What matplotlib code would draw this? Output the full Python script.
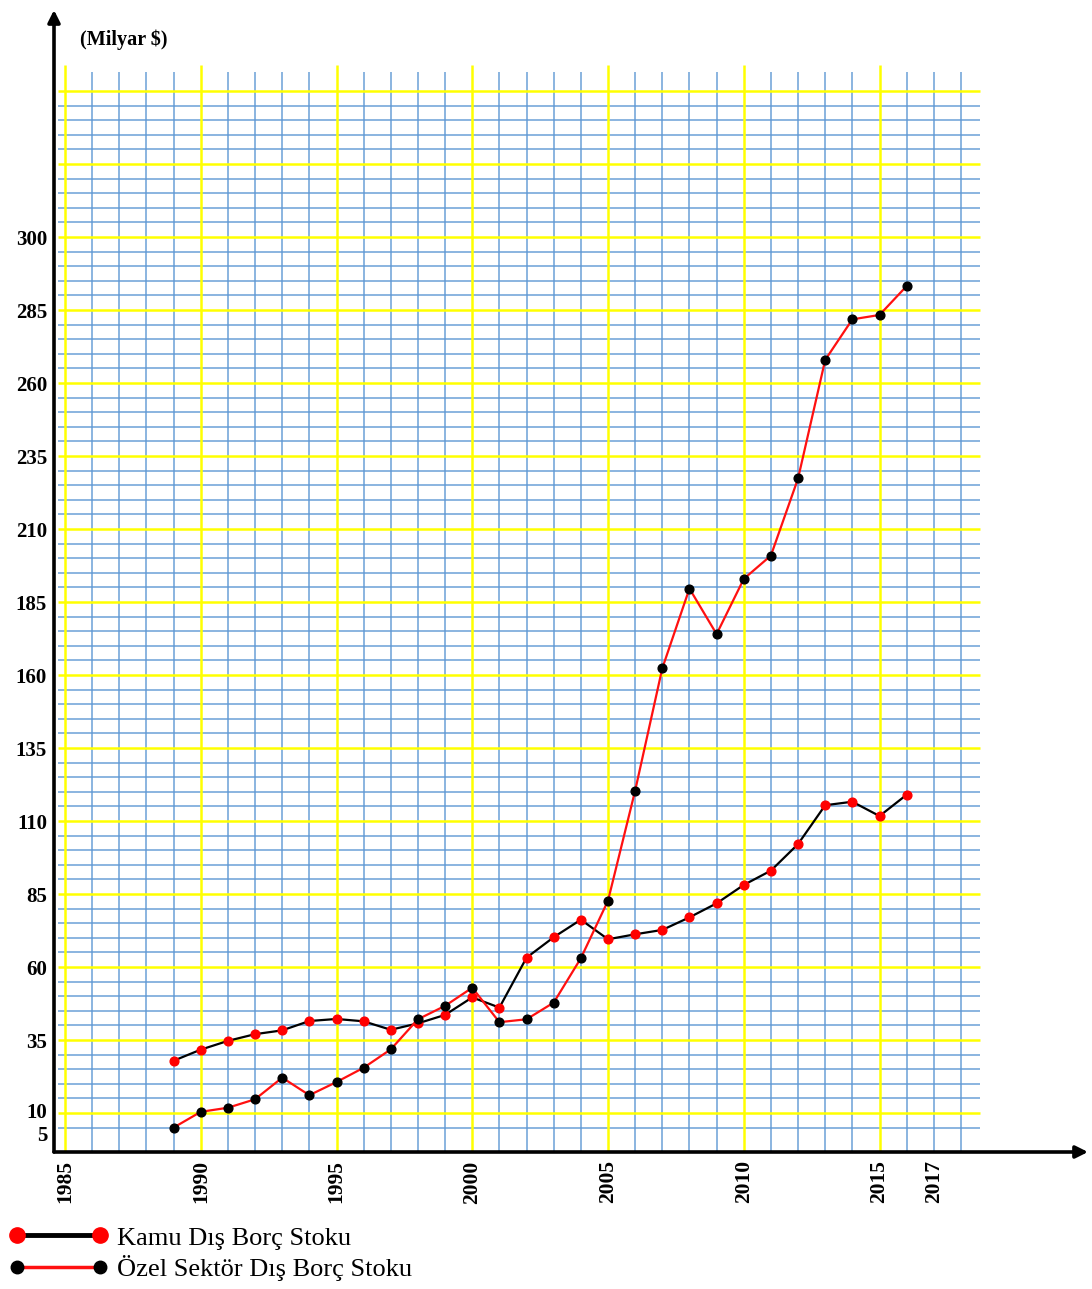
import matplotlib
matplotlib.use("Agg")
import matplotlib.pyplot as plt
import matplotlib.transforms as mtransforms
from matplotlib.lines import Line2D
import numpy as np

# ---- data ----
years = list(range(1989, 2017))
kamu = [27.9, 31.7, 34.7, 37.0, 38.3, 41.5, 42.2, 41.4, 38.5, 40.7, 43.6, 49.6, 46.1, 63.2,
        70.2, 76.2, 69.5, 71.2, 72.7, 77.0, 81.8, 88.1, 93.0, 102.1, 115.4, 116.6, 111.7, 119.0]
ozel = [5.0, 10.4, 11.8, 14.7, 22.1, 16.1, 20.6, 25.5, 31.8, 42.1, 46.7, 52.9, 41.1, 42.1,
        47.8, 63.0, 82.7, 120.4, 162.3, 189.6, 174.0, 192.9, 200.9, 227.3, 267.9, 281.8, 283.3, 293.2]
ytick_vals = [5, 10, 35, 60, 85, 110, 135, 160, 185, 210, 235, 260, 285, 310]
ytick_labels = ["5", "10", "35", "60", "85", "110", "135", "160", "185", "210", "235", "260", "285", "300"]
xtick_vals = [1985, 1990, 1995, 2000, 2005, 2010, 2015, 2017]
xtick_labels = [str(v) for v in xtick_vals]
label_kamu = "Kamu Dış Borç Stoku"
label_ozel = "Özel Sektör Dış Borç Stoku"
unit_label = "(Milyar $)"

W, H = 1092, 1289
fig = plt.figure(figsize=(W / 100, H / 100), dpi=100)
serif = ["Liberation Serif", "DejaVu Serif"]

# axes spanning pixel box x 54..1088, y 10..1152
ax = fig.add_axes([54 / W, 1 - 1152 / H, (1088 - 54) / W, (1152 - 10) / H])
px_per_year = 27.15
px_per_unit = 2.92
x0 = 1985 - 11 / px_per_year
x1 = 1985 + 1023 / px_per_year
y0 = 10 - 39 / px_per_unit
y1 = 10 + 1103 / px_per_unit
ax.set_xlim(x0, x1)
ax.set_ylim(y0, y1)

# grid
blue = "#5f98d4"
yellow = "#ffff00"
hvals = np.arange(5, 361, 5)
grid_x_end = 1985 + 915 / px_per_year
grid_x_start = 1985 - 7 / px_per_year
grid_y_top = 10 + 1048 / px_per_unit
for v in hvals:
    if (v - 10) % 25 == 0:
        ax.hlines(v, grid_x_start, grid_x_end, color=yellow, lw=1.8, zorder=2)
    else:
        ax.hlines(v, grid_x_start, grid_x_end, color=blue, lw=1.2, alpha=0.85, zorder=1)
for yr in range(1985, 2019):
    if yr % 5 == 0:
        ax.vlines(yr, y0, grid_y_top, color=yellow, lw=1.8, zorder=2)
    else:
        ax.vlines(yr, y0, grid_y_top - 2.5, color=blue, lw=1.2, alpha=0.85, zorder=1)

# series
ax.plot(years, kamu, color="black", lw=1.6, marker="o", ms=6.3,
        mfc="#ff0000", mec="#ff0000", zorder=4)
ax.plot(years, ozel, color="#ff1010", lw=1.6, marker="o", ms=6.3,
        mfc="black", mec="black", zorder=4)

# axes arrows
for s in ax.spines.values():
    s.set_visible(False)
ax.annotate("", xy=(0, 1), xytext=(0, 0), xycoords="axes fraction",
            arrowprops=dict(arrowstyle="-|>", lw=2.6, color="black", mutation_scale=18,
                            shrinkA=0, shrinkB=0), zorder=5)
ax.annotate("", xy=(1, 0), xytext=(0, 0), xycoords="axes fraction",
            arrowprops=dict(arrowstyle="-|>", lw=2.6, color="black", mutation_scale=18,
                            shrinkA=0, shrinkB=0), zorder=5)

ax.set_yticks(ytick_vals)
ax.set_yticklabels(ytick_labels, fontfamily=serif, fontweight="bold", fontsize=15)
ax.set_xticks(xtick_vals)
ax.set_xticklabels(xtick_labels, fontfamily=serif, fontweight="bold", fontsize=15.5,
                   rotation=90)
ax.tick_params(axis="both", length=0)
ax.tick_params(axis="y", pad=5)
ax.tick_params(axis="x", pad=6)

# nudge the "5" and "10" labels apart as in the reference
ylabels = ax.get_yticklabels()
ylabels[0].set_transform(ylabels[0].get_transform() +
                         mtransforms.ScaledTranslation(0, -6 / 100, fig.dpi_scale_trans))
ylabels[1].set_transform(ylabels[1].get_transform() +
                         mtransforms.ScaledTranslation(0, 2 / 100, fig.dpi_scale_trans))

fig.text(80 / W, 1 - 40 / H, unit_label, ha="left", va="center",
         fontfamily=serif, fontweight="bold", fontsize=14.5)

handles = [
    Line2D([], [], color="black", lw=3.5, marker="o", ms=11, mfc="#ff0000", mec="#ff0000"),
    Line2D([], [], color="#ff1010", lw=2.5, marker="o", ms=9, mfc="black", mec="black"),
]
fig.legend(handles, [label_kamu, label_ozel], loc="upper left",
           bbox_to_anchor=(-12 / W, 1 - 1205 / H), frameon=False, numpoints=2,
           handlelength=3.75, handletextpad=0.35, labelspacing=0.22,
           prop=dict(family=serif, size=19), borderpad=0.3)

fig.savefig("out.png", dpi=100)
